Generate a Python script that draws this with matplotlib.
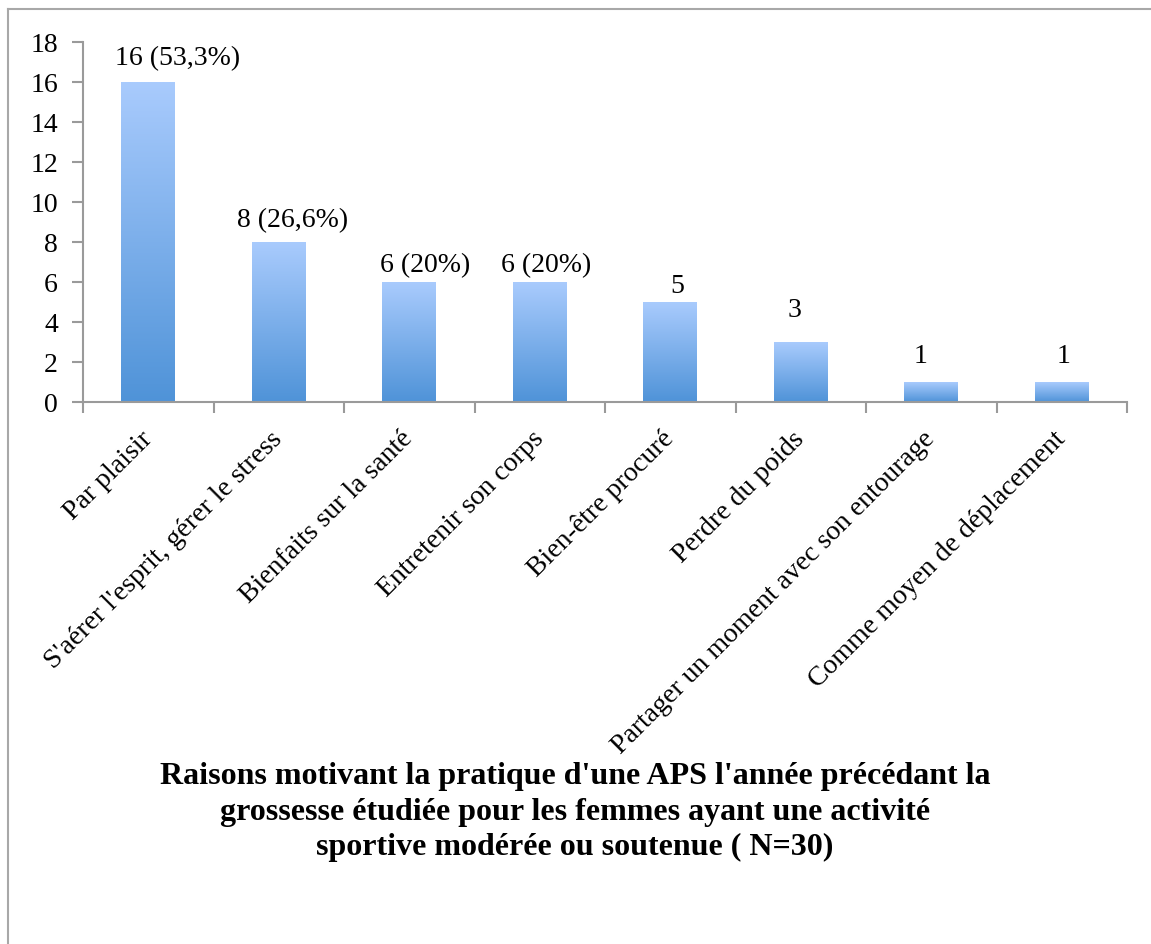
import numpy as np
import matplotlib.pyplot as plt
from matplotlib.colors import LinearSegmentedColormap
from matplotlib.lines import Line2D

# data
categories = ["Par plaisir",
              "S'aérer l'esprit, gérer le stress",
              "Bienfaits sur la santé",
              "Entretenir son corps",
              "Bien-être procuré",
              "Perdre du poids",
              "Partager un moment avec son entourage",
              "Comme moyen de déplacement"]
counts = [16, 8, 6, 6, 5, 3, 1, 1]
bar_labels = ["16 (53,3%)", "8 (26,6%)", "6 (20%)", "6 (20%)", "5", "3", "1", "1"]
yticks = [0, 2, 4, 6, 8, 10, 12, 14, 16, 18]
title = ("Raisons motivant la pratique d'une APS l'année précédant la\n"
         "grossesse étudiée pour les femmes ayant une activité\n"
         "sportive modérée ou soutenue ( N=30)")

# labels were nudged by hand in the original (offsets in pixels)
lab_dx = [29, 14, 16, 6, 7, -6, -11, 2]
lab_dy = [17, 15, 10, 10, 9, 25, 19, 19]

serif = ['Liberation Serif', 'DejaVu Serif']
grey = '#9a9a9a'

W, H = 1151, 944
fig = plt.figure(figsize=(W/100, H/100), dpi=100)
ax = fig.add_axes([83/W, 1-402/H, (1127-83)/W, (402-42)/H])

x = np.arange(len(categories))
bars = ax.bar(x, counts, width=0.41, color='none', edgecolor='none', zorder=2)

# vertical gradient inside each bar (light on top, darker at bottom)
cmap = LinearSegmentedColormap.from_list('blu', ['#4f93d8', '#a9cbfd'])
grad = np.linspace(0, 1, 256).reshape(-1, 1)
for b in bars:
    x0, y0 = b.get_x(), b.get_y()
    ax.imshow(grad, extent=[x0, x0+b.get_width(), y0, y0+b.get_height()],
              origin='lower', cmap=cmap, aspect='auto', zorder=2)

for xi, v, lab, dx, dy in zip(x, counts, bar_labels, lab_dx, lab_dy):
    ax.annotate(lab, (xi, v), xytext=(dx*0.72, dy*0.72), textcoords='offset points',
                ha='center', va='baseline', fontsize=20, family=serif)

ax.set_xlim(-0.5, len(categories) - 0.5)
ax.set_ylim(0, 18)
ax.set_yticks(yticks)
ax.set_yticklabels([str(t) for t in yticks], fontsize=20, family=serif)

ax.set_xticks(np.arange(len(categories) + 1) - 0.5)
ax.set_xticklabels([])
ax.set_xticks(x, minor=True)
ax.set_xticklabels(categories, minor=True, rotation=45, ha='right', va='center',
                   rotation_mode='anchor', fontsize=20, family=serif)
ax.tick_params(axis='x', which='minor', length=0, pad=24)
ax.tick_params(axis='x', which='major', length=8, width=1.5, color=grey)
ax.tick_params(axis='y', length=8, width=1.5, color=grey, pad=10)

for s in ['top', 'right']:
    ax.spines[s].set_visible(False)
for s in ['left', 'bottom']:
    ax.spines[s].set_color(grey)
    ax.spines[s].set_linewidth(1.5)

fig.text(575/W, 1-762/H, title, ha='center', va='top', fontsize=23,
         fontweight='bold', family=serif, linespacing=1.3)

# outer frame (only left and top edges visible in the crop)
fig.add_artist(Line2D([8/W, 8/W], [0, 1-9/H], color='#a8a8a8', lw=1.5))
fig.add_artist(Line2D([8/W, 1], [1-9/H, 1-9/H], color='#a8a8a8', lw=1.5))

fig.savefig('out.png', dpi=100)
